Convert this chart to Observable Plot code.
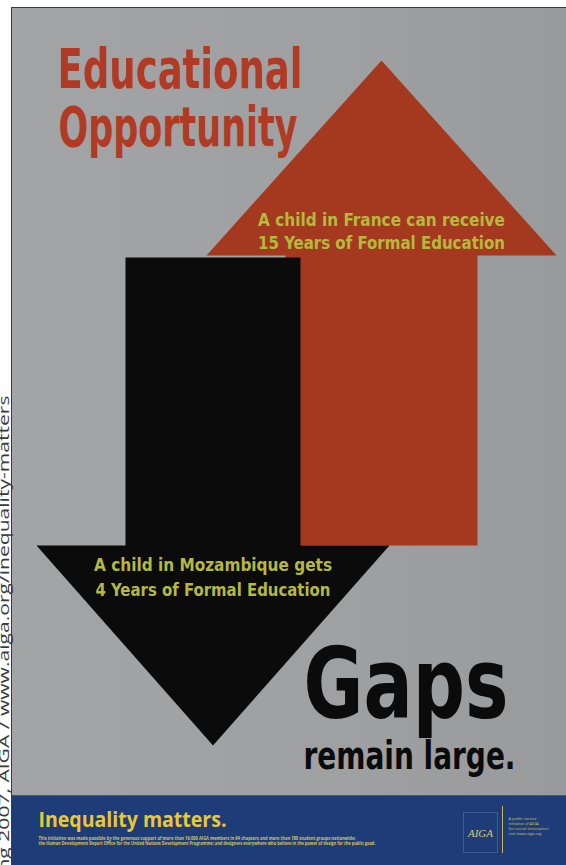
<!DOCTYPE html>
<html>
<head>
<meta charset="utf-8">
<script src="https://cdn.jsdelivr.net/npm/d3@7"></script>
<script src="https://cdn.jsdelivr.net/npm/@observablehq/plot@0.6"></script>
<style>
  body { margin: 0; background: #fff; }
  #poster { position: relative; width: 566px; height: 865px; overflow: hidden; background: #fff; }
  #bg { position: absolute; left: 11px; top: 7px; right: 0; bottom: 0; background: linear-gradient(90deg, #a2a4a6 0%, #9e a0a2 60%, #98 9a9c 100%); background: linear-gradient(90deg, #a2a4a6 0%, #9ea0a2 60%, #989a9c 100%); border-left: 1px solid #3a3a3a; border-top: 1px solid #3a3a3a; }
  #band { position: absolute; left: 12px; top: 795px; right: 0; bottom: 0; background: #1e3d78; border-top: 1px solid #3b5890; }
  #logo { position: absolute; left: 463px; top: 812px; width: 33px; height: 39px; border: 1px solid #3d5b94; }
  #rule { position: absolute; left: 502px; top: 806px; width: 1px; height: 47px; background: #c9b45a; }
  #chart { position: absolute; left: 0; top: 0; }
</style>
</head>
<body>
<div id="poster">
  <div id="bg"></div>
  <div id="band"></div>
  <div id="logo"></div>
  <div id="rule"></div>
  <div id="chart"></div>
</div>
<script>
// ---------- data ----------
const countries = ["France", "Mozambique"];
const years = [15, 4];
const directions = ["up", "down"];
const verbs = ["can receive", "gets"];
const titleLines = ["Educational", "Opportunity"];
const headline = ["Gaps", "remain large."];
const footerTitle = "Inequality matters.";
const fineprint = [
  "This initiative was made possible by the generous support of more than 16,000 AIGA members in 64 chapters and more than 180 student groups nationwide;",
  "the Human Development Report Office for the United Nations Development Programme; and designers everywhere who believe in the power of design for the public good."
];
const aigaNote = ["A public service", "initiative of AIGA", "for social innovation", "visit www.aiga.org"];
const logoText = "AIGA";
const sideNote = "ring 2007, AIGA / www.aiga.org/inequality-matters";

// ---------- layout & style ----------
const W = 566, H = 865;
const arrowColors = ["#a5391f", "#0b0b0b"];
const labelColor = "#b5b93d";
const condensed = "'Liberation Sans Narrow', 'DejaVu Sans Condensed', 'Arial Narrow', sans-serif";
const humanist = "'Open Sans', 'Noto Sans', sans-serif";
const arrowLayout = {
  up:   {cx: 381,   tail: 545, neck: 255, tip: 60,  shaft: 96,   head: 175, label1: 225, label2: 248},
  down: {cx: 212.5, tail: 257, neck: 545, tip: 745, shaft: 87.5, head: 176.5, label1: 570, label2: 595}
};

function arrowOutline(country, dir) {
  const a = arrowLayout[dir];
  return [
    [a.cx - a.shaft, a.tail], [a.cx + a.shaft, a.tail], [a.cx + a.shaft, a.neck],
    [a.cx + a.head, a.neck], [a.cx, a.tip], [a.cx - a.head, a.neck], [a.cx - a.shaft, a.neck]
  ].map(([x, y]) => ({country, x, y}));
}
const arrowPoints = countries.flatMap((c, i) => arrowOutline(c, directions[i]));

const arrowLabels = countries.flatMap((c, i) => {
  const a = arrowLayout[directions[i]];
  return [
    {text: `A child in ${c} ${verbs[i]}`, x: a.cx, y: a.label1},
    {text: `${years[i]} Years of Formal Education`, x: a.cx, y: a.label2}
  ];
});

// text rows: text, x, y (baseline), target width
const widths = new Map();
function txt(rows, opts) {
  rows.forEach(r => { if (r.w) widths.set(r.text, r.w); });
  return Plot.text(rows, {x: "x", y: "y", text: "text", lineAnchor: "bottom", ...opts});
}

const marks = [
  Plot.line(arrowPoints, {x: "x", y: "y", z: "country", fill: "country", stroke: "none"}),
  txt([{text: titleLines[0], x: 57, y: 87, w: 245}, {text: titleLines[1], x: 58, y: 145, w: 239}],
      {textAnchor: "start", fontSize: 56, fontWeight: "bold", fontFamily: condensed, fill: "#b03a24"}),
  txt(arrowLabels.map(d => ({...d, w: d.text.includes("Mozambique") ? 238 : (d.text.startsWith("4") ? 235 : 247)})),
      {textAnchor: "middle", fontSize: 18, fontWeight: "bold", fontFamily: condensed, fill: labelColor}),
  txt([{text: headline[0], x: 303, y: 717, w: 205}],
      {textAnchor: "start", fontSize: 98, fontWeight: "bold", fontFamily: condensed, fill: "#0b0b0b"}),
  txt([{text: headline[1], x: 303, y: 768, w: 212}],
      {textAnchor: "start", fontSize: 39, fontWeight: "bold", fontFamily: condensed, fill: "#0b0b0b"}),
  txt([{text: footerTitle, x: 38, y: 826, w: 188}],
      {textAnchor: "start", fontSize: 22, fontWeight: "bold", fontFamily: humanist, fill: "#eac733"}),
  txt([{text: fineprint[0], x: 38, y: 839, w: 317}, {text: fineprint[1], x: 38, y: 844.5, w: 337}],
      {textAnchor: "start", fontSize: 4.6, fontWeight: "bold", fontFamily: humanist, fill: "#d7c25c"}),
  txt(aigaNote.map((t, i) => ({text: t, x: 508, y: 819 + i * 5, w: [28, 30, 40, 33][i]})),
      {textAnchor: "start", fontSize: 3.8, fontFamily: humanist, fill: "#d7c25c"}),
  txt([{text: logoText, x: 480, y: 836, w: 25}],
      {textAnchor: "middle", fontSize: 11, fontStyle: "italic", fontFamily: "'Liberation Serif', serif", fill: "#d9c77a"}),
  txt([{text: sideNote, x: 8.5, y: 395, w: 490}],
      {textAnchor: "end", rotate: -90, fontSize: 15, fontFamily: "'Open Sans', 'DejaVu Sans', sans-serif", fill: "#3a3a3a"})
];

const chart = Plot.plot({
  width: W, height: H, margin: 0,
  x: {domain: [0, W], range: [0, W], axis: null},
  y: {domain: [0, H], range: [0, H], axis: null},
  color: {domain: countries, range: arrowColors},
  style: {background: "transparent", overflow: "visible"},
  marks
});

d3.select(chart).selectAll("text").each(function() {
  const w = widths.get(this.textContent);
  if (w) {
    this.setAttribute("textLength", w);
    this.setAttribute("lengthAdjust", "spacingAndGlyphs");
  }
});
document.getElementById("chart").appendChild(chart);
</script>
</body>
</html>
